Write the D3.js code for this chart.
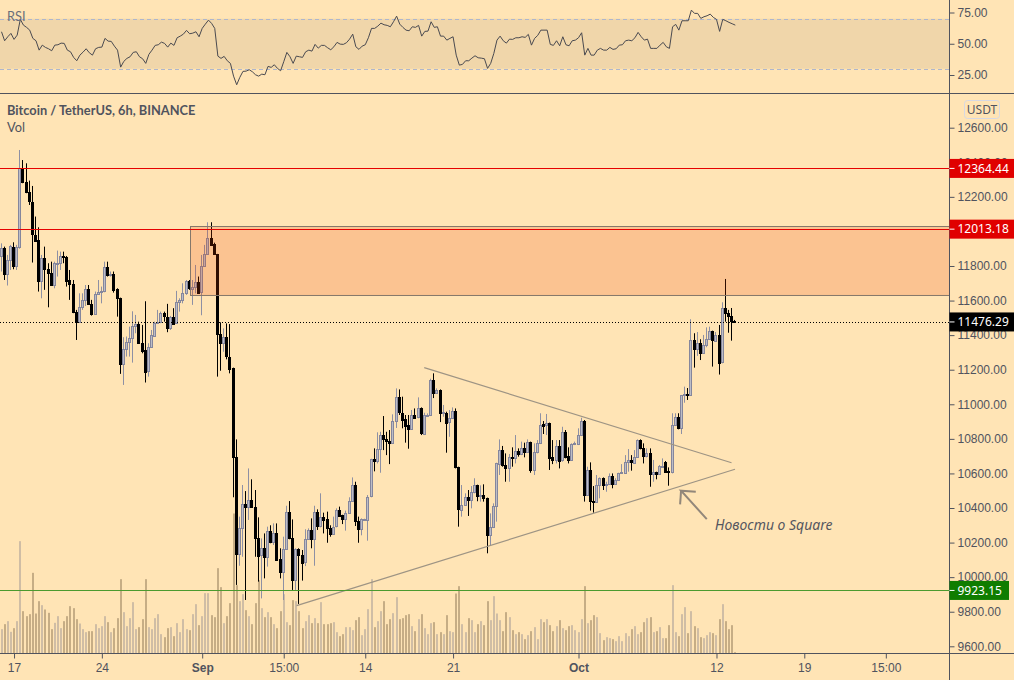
<!DOCTYPE html>
<html>
<head>
<meta charset="utf-8">
<script src="https://cdn.jsdelivr.net/npm/d3@7"></script>
<style>
    html, body { margin: 0; padding: 0; background: #FFE4B5; overflow: hidden; }
    svg { display: block; font-family: "Noto Sans", sans-serif; }
    .axis text { fill: #50535E; font-size: 12px; }
    .axis line { stroke: #50535E; }
    .axis path { display: none; }
    .pane-title { font-family: Lato, sans-serif; font-size: 12.8px; }
</style>
</head>
<body>
<script>
var opens = [
    11854,11903,11752,11835,11912,11800,11908,12365,12284,12226,
    12169,11982,11949,11710,11845,11781,11758,11690,11812,11816,
    11858,11852,11719,11694,11532,11475,11561,11602,11665,11579,
    11523,11635,11648,11652,11793,11748,11754,11665,11613,11230,
    11318,11359,11382,11451,11463,11353,11314,11189,11330,11399,
    11473,11475,11527,11507,11444,11507,11469,11590,11602,11642,
    11712,11671,11681,11710,11648,11800,11868,11960,11926,11868,
    11404,11350,11387,11275,11208,10693,10134,10282,10421,10404,
    10444,10404,10226,10124,10167,10113,10265,10199,10253,10103,
    10026,10161,10375,10224,9980,10161,10128,10084,10219,10273,
    10219,10375,10292,10346,10334,10284,10250,10292,10386,10359,
    10338,10373,10440,10531,10323,10277,10331,10334,10465,10681,
    10670,10739,10820,10797,10786,10774,10901,11040,10951,10913,
    10880,10859,10940,10924,10976,10828,10934,10936,11140,11067,
    11082,10949,10951,10893,10919,10959,10635,10388,10415,10462,
    10446,10491,10531,10469,10473,10456,10240,10288,10412,10654,
    10735,10647,10627,10693,10685,10728,10708,10745,10724,10780,
    10620,10720,10774,10886,10880,10890,10693,10678,10759,10674,
    10838,10699,10678,10770,10770,10822,10903,10477,10620,10442,
    10435,10535,10573,10533,10535,10583,10537,10560,10600,10600,
    10664,10676,10664,10697,10793,10745,10697,10716,10597,10606,
    10597,10639,10666,10612,10604,10878,10924,10859,11052,11058,
    11054,11372,11318,11353,11295,11341,11376,11422,11368,11401,
    11241,11555,11526,11511,11484
];
var highs = [
    11931,11912,11864,11922,11937,11922,12471,12413,12394,12294,
    12263,12086,12024,11864,11912,11816,11825,11825,11889,11883,
    11883,11858,11777,11719,11546,11642,11642,11690,11690,11604,
    11652,11719,11681,11825,11825,11768,11768,11671,11617,11388,
    11392,11449,11538,11517,11478,11459,11596,11353,11430,11478,
    11546,11536,11536,11581,11511,11556,11656,11613,11700,11719,
    11719,11719,11806,11739,11864,11922,12053,12053,11935,11870,
    11474,11439,11468,11464,11212,10797,10350,10533,10498,10629,
    10566,10504,10346,10224,10253,10292,10300,10311,10311,10167,
    10234,10413,10440,10334,10167,10167,10157,10277,10282,10340,
    10413,10392,10485,10373,10379,10300,10350,10398,10408,10361,
    10385,10462,10577,10552,10350,10340,10338,10475,10685,10745,
    10838,10841,10932,10841,10851,10942,11092,11086,11044,10938,
    10938,10967,10976,11040,10982,10951,10947,11148,11179,11092,
    11086,10996,10957,10967,10982,10976,10639,10533,10485,10504,
    10527,10572,10535,10531,10537,10460,10369,10427,10662,10797,
    10759,10716,10712,10751,10822,10745,10784,10778,10797,10784,
    10774,10793,10948,10903,10944,10894,10793,10793,10793,10870,
    10851,10751,10774,10784,10861,10922,10909,10639,10664,10527,
    10591,10577,10577,10552,10600,10600,10572,10604,10654,10706,
    10741,10706,10735,10797,10797,10774,10745,10745,10678,10610,
    10649,10687,10672,10635,10948,10948,10948,11054,11102,11094,
    11492,11411,11418,11376,11401,11445,11449,11426,11418,11459,
    11590,11725,11546,11557,11488
];
var lows = [
    11768,11719,11687,11777,11781,11777,11900,12279,12221,12153,
    11820,11941,11652,11613,11662,11561,11687,11671,11739,11777,
    11816,11681,11604,11527,11372,11471,11546,11569,11575,11513,
    11517,11633,11584,11648,11739,11739,11646,11507,11176,11112,
    11276,11276,11241,11411,11349,11295,11126,11160,11326,11395,
    11469,11469,11478,11417,11430,11465,11465,11536,11584,11633,
    11662,11575,11642,11642,11515,11797,11864,11918,11864,11160,
    11194,11304,11260,11179,10462,9955,10066,10118,9868,10331,
    10400,10118,9974,9877,9993,10061,10196,10186,10095,9993,
    9868,10157,10219,9926,9926,9845,9980,10064,10215,10167,
    10066,10273,10288,10253,10199,10234,10246,10288,10350,10307,
    10269,10369,10437,10296,10199,10242,10327,10211,10462,10612,
    10658,10604,10735,10706,10654,10770,10863,10938,10861,10778,
    10743,10855,10919,10919,10822,10822,10928,10932,11036,11063,
    10897,10928,10720,10812,10915,10629,10292,10350,10412,10354,
    10398,10485,10439,10437,10437,10138,10186,10284,10321,10591,
    10639,10552,10552,10639,10658,10697,10706,10693,10720,10604,
    10591,10716,10770,10828,10822,10620,10654,10658,10629,10668,
    10687,10658,10672,10764,10764,10820,10437,10475,10385,10373,
    10431,10456,10504,10494,10533,10514,10533,10556,10597,10597,
    10610,10616,10658,10693,10739,10658,10693,10523,10552,10566,
    10591,10635,10604,10529,10600,10874,10855,10828,11009,11025,
    11050,11212,11280,11256,11291,11330,11372,11218,11364,11172,
    11237,11478,11414,11368,11472
];
var closes = [
    11903,11752,11835,11916,11800,11908,12365,12282,12225,12172,
    11982,11945,11710,11845,11781,11756,11690,11816,11816,11858,
    11852,11716,11694,11530,11475,11561,11602,11665,11579,11523,
    11638,11648,11654,11793,11744,11752,11662,11613,11230,11318,
    11359,11382,11451,11463,11353,11309,11189,11330,11401,11473,
    11476,11527,11507,11444,11507,11469,11590,11604,11642,11712,
    11671,11681,11710,11648,11800,11868,11960,11922,11868,11404,
    11350,11387,11275,11206,10693,10134,10282,10421,10404,10444,
    10404,10223,10124,10167,10113,10265,10199,10253,10099,10026,
    10161,10375,10223,9980,10161,10124,10084,10219,10273,10219,
    10375,10292,10346,10331,10280,10250,10292,10386,10354,10338,
    10373,10440,10531,10323,10277,10334,10334,10465,10681,10670,
    10739,10820,10797,10786,10774,10901,11040,10951,10909,10874,
    10859,10940,10924,10976,10832,10936,10938,11140,11067,11082,
    10951,10953,10893,10919,10959,10633,10392,10415,10462,10446,
    10491,10531,10469,10477,10454,10240,10288,10412,10658,10735,
    10647,10627,10693,10685,10728,10708,10745,10724,10780,10620,
    10724,10774,10878,10874,10892,10689,10678,10759,10674,10838,
    10693,10678,10770,10774,10822,10903,10477,10620,10442,10435,
    10535,10573,10533,10537,10583,10537,10560,10600,10606,10664,
    10676,10664,10697,10793,10745,10697,10716,10597,10606,10597,
    10643,10645,10610,10604,10878,10924,10859,11052,11057,11052,
    11372,11318,11353,11295,11341,11376,11422,11368,11401,11241,
    11555,11526,11511,11484,11476
];
var volumes = [
    73,88,97,65,76,97,337,127,112,118,
    242,120,157,145,132,122,73,92,112,76,
    97,112,142,136,103,90,73,64,67,67,
    88,76,82,112,94,64,76,106,223,124,
    82,106,154,73,79,103,223,79,73,106,
    118,58,49,76,79,52,91,64,103,73,
    70,118,148,85,112,181,181,115,109,256,
    199,91,112,151,420,205,157,178,130,112,
    88,151,220,136,109,124,109,88,76,127,
    178,94,85,160,157,127,76,97,115,91,
    106,91,154,88,88,91,94,64,52,58,
    79,79,70,100,109,55,73,133,223,79,
    97,127,157,88,103,121,169,103,106,115,
    118,82,67,103,118,76,58,91,94,58,
    64,58,115,67,64,180,202,88,64,106,
    100,64,88,97,85,157,100,172,120,100,
    67,124,109,70,58,64,58,43,55,67,
    79,43,103,94,103,85,67,82,100,76,
    70,82,85,70,64,103,202,91,100,115,
    109,61,40,49,46,43,37,52,37,61,
    52,73,82,58,64,94,106,109,64,67,
    79,46,46,85,205,64,52,118,139,61,
    127,82,76,49,46,55,64,61,55,103,
    148,97,73,85,4
];
var rsiValues = [
    59.6,52.4,55.6,58.3,53.5,56.9,69.5,64.9,63.1,60.9,
    54.3,52.4,44.9,48.9,47.1,46,44.4,48.9,49.2,50.5,
    50.3,44.9,43.6,39.1,36.4,40.9,43.3,46,42.8,40.9,
    46,47.1,47.3,54.3,52.1,51.9,48.1,44.9,31.3,35.9,
    38.3,39.6,43.1,43.6,39.6,38,34.3,41.5,44.9,48.7,
    49.2,51.3,50.3,47.3,50.5,48.7,54.8,56.1,57.7,60.7,
    58,58.5,59.6,55.6,62.3,65.7,68.9,66.3,62.3,40.1,
    38.3,39.9,36.4,34.3,24.1,17.2,23.1,27.9,28.1,29.2,
    27.6,25.2,24.1,25.7,25.2,31.9,31.1,33.2,30.3,28.4,
    35.6,43.1,39.6,34.3,40.1,39.6,39.1,43.6,44.9,44.1,
    49.5,46.5,48.7,48.7,46.8,45.2,47.6,51.1,49.7,49.5,
    50.8,53.7,57.7,47.6,45.5,48.1,49.2,54.8,62.3,62.3,
    64.1,66.5,65.2,64.7,63.6,67.6,72.1,65.7,63.1,60.9,
    60.4,63.6,63.1,64.7,56.1,59.9,60.1,67.6,63.1,63.6,
    56.1,56.1,52.9,54.3,55.6,40.9,32.9,33.5,36.4,36.4,
    38.5,40.4,38.8,38.5,38,30.3,34.3,42.3,52.9,56.1,
    52.4,50.5,53.7,53.5,54.8,54.8,55.6,55.1,57.5,48.9,
    54.3,56.7,60.9,60.9,60.9,49.5,48.7,52.4,48.4,55.6,
    49.2,48.4,52.4,52.9,54.8,58.8,40.9,46.3,40.9,40.9,
    44.9,46.3,44.9,44.9,47.1,45.5,46,48.9,49.2,52.4,
    52.9,52.4,54.8,59.1,55.6,52.9,53.7,46.3,46.3,46.3,
    48.9,51.1,47.6,46.3,63.6,65.5,60.9,68.4,68.4,68.4,
    76.9,74.3,74.3,70.3,71.6,72.4,73.7,71.1,69.5,59.9,
    69.5,68.4,67.1,66,64.9
];

var priceTicks = [12600,12400,12200,12000,11800,11600,11400,11200,11000,10800,10600,10400,10200,10000,9800,9600];
var rsiTicks = [75, 50, 25];
var timeTickBars = [4, 32, 64, 90, 116, 144, 184, 228, 256, 282];
var timeTickLabels = ["17", "24", "Sep", "15:00", "14", "21", "Oct", "12", "19", "15:00"];
var boldTimeLabels = ["Sep", "Oct"];

var resistance = [12364.44, 12013.18];
var support = 9923.15;
var lastPrice = 11476.29;
var zoneBars = [60, 300];
var zonePrices = [12030, 11631];
var upperTrendBars = [134.8, 232.8];
var upperTrendPrices = [11212, 10662];
var lowerTrendBars = [94.1, 233.9];
var lowerTrendPrices = [9835, 10624];
var arrowBars = [224.9, 216.7, 221.4];
var arrowPrices = [10336, 10500, 10494];
var arrowBarbBar = 216.4;
var arrowBarbPrice = 10421;

(function() {
    var WIDTH = 1014,
        HEIGHT = 680,
        PLOT_RIGHT = 949.5,
        AXIS_BOTTOM = 653.5,
        PANE_SPLIT = 93.5;

    var upStroke = "#85869C", upFill = "#BDBDC6", upWick = "#8E90A4", downColor = "#000000";
    var textColor = "#50535E";

    var svg = d3.select("body").append("svg")
        .attr("width", WIDTH)
        .attr("height", HEIGHT);

    var x = d3.scaleLinear().domain([0, 234]).range([1.5, 735.3]);
    var y = d3.scaleLinear().domain([9600, 12600]).range([646.3, 127.7]);
    var yRsi = d3.scaleLinear().domain([25, 75]).range([75, 12.5]);
    var yVol = d3.scaleLinear().domain([0, 420]).range([AXIS_BOTTOM, AXIS_BOTTOM - 140]);

    function px(v) { return Math.round(v) + 0.5; }
    var bars = d3.range(opens.length);
    function isUp(i) { return closes[i] >= opens[i]; }

    // rsi pane
    svg.append("rect")
        .attr("x", 0).attr("width", PLOT_RIGHT)
        .attr("y", yRsi(70)).attr("height", yRsi(30) - yRsi(70))
        .attr("fill", "#F0D6AA");
    svg.selectAll(".rsiLevel").data([70, 30]).enter().append("line")
        .attr("x1", 0).attr("x2", PLOT_RIGHT)
        .attr("y1", function(d) { return px(yRsi(d)); })
        .attr("y2", function(d) { return px(yRsi(d)); })
        .attr("stroke", "#AEB6CC")
        .attr("stroke-dasharray", "4 3");
    svg.append("path")
        .datum(rsiValues)
        .attr("fill", "none")
        .attr("stroke", "#4A4A50")
        .attr("stroke-width", 1)
        .attr("d", d3.line().x(function(d, i) { return x(i); }).y(function(d) { return yRsi(d); }));

    // volume under the candles
    svg.selectAll(".vol").data(bars).enter().append("rect")
        .attr("x", function(i) { return Math.round(x(i)) - 1; })
        .attr("width", 2)
        .attr("y", function(i) { return yVol(volumes[i]); })
        .attr("height", function(i) { return AXIS_BOTTOM - yVol(volumes[i]); })
        .attr("fill", function(i) { return isUp(i) ? "#CFBDA5" : "#C6AD85"; });

    // wicks
    svg.selectAll(".wick").data(bars).enter().append("line")
        .attr("x1", function(i) { return px(x(i)) - 1; })
        .attr("x2", function(i) { return px(x(i)) - 1; })
        .attr("y1", function(i) { return y(highs[i]); })
        .attr("y2", function(i) { return y(lows[i]); })
        .attr("stroke", function(i) { return isUp(i) ? upWick : downColor; });

    // bodies
    svg.selectAll(".body").data(bars).enter().append("rect")
        .attr("x", function(i) { return px(x(i)) - 2; })
        .attr("width", 2)
        .attr("y", function(i) { return px(y(Math.max(opens[i], closes[i]))); })
        .attr("height", function(i) {
            return Math.max(1, Math.round(y(Math.min(opens[i], closes[i])) - y(Math.max(opens[i], closes[i]))));
        })
        .attr("fill", function(i) { return isUp(i) ? upFill : downColor; })
        .attr("stroke", function(i) { return isUp(i) ? upStroke : downColor; });

    // supply zone goes over the candles, they show through it
    svg.append("rect")
        .attr("x", px(x(zoneBars[0])))
        .attr("y", px(y(zonePrices[0])))
        .attr("width", PLOT_RIGHT - px(x(zoneBars[0])))
        .attr("height", y(zonePrices[1]) - y(zonePrices[0]))
        .attr("fill", "rgba(235,63,6,0.2)")
        .attr("stroke", "#85776A");

    var trend = d3.line()
        .x(function(d) { return x(d[0]); })
        .y(function(d) { return y(d[1]); });

    svg.append("path")
        .attr("d", trend(d3.zip(upperTrendBars, upperTrendPrices)))
        .attr("fill", "none").attr("stroke", "#9E9484").attr("stroke-width", 1.2);
    svg.append("path")
        .attr("d", trend(d3.zip(lowerTrendBars, lowerTrendPrices)))
        .attr("fill", "none").attr("stroke", "#9E9484").attr("stroke-width", 1.2);

    // arrow to the news candle
    svg.append("path")
        .attr("d", trend(d3.zip(arrowBars, arrowPrices)))
        .attr("fill", "none").attr("stroke", "#92877A").attr("stroke-width", 2);
    svg.append("path")
        .attr("d", trend([[arrowBars[1], arrowPrices[1]], [arrowBarbBar, arrowBarbPrice]]))
        .attr("fill", "none").attr("stroke", "#92877A").attr("stroke-width", 2);

    svg.append("text")
        .attr("x", 715).attr("y", 526.5)
        .attr("font-size", 14)
        .attr("font-style", "italic")
        .attr("dominant-baseline", "middle")
        .attr("fill", "#55565F")
        .text("Новости о Square");

    // price lines
    svg.selectAll(".resistance").data(resistance).enter().append("line")
        .attr("x1", 0).attr("x2", PLOT_RIGHT)
        .attr("y1", function(d) { return px(y(d)); })
        .attr("y2", function(d) { return px(y(d)); })
        .attr("stroke", "#E60000");
    svg.append("line")
        .attr("x1", 0).attr("x2", PLOT_RIGHT)
        .attr("y1", px(y(support))).attr("y2", px(y(support)))
        .attr("stroke", "#4B9A2E");
    svg.append("line")
        .attr("x1", 0).attr("x2", PLOT_RIGHT)
        .attr("y1", px(y(lastPrice))).attr("y2", px(y(lastPrice)))
        .attr("stroke", "#000")
        .attr("stroke-dasharray", "1 2");

    // frame
    svg.append("line").attr("x1", 0).attr("x2", WIDTH).attr("y1", PANE_SPLIT).attr("y2", PANE_SPLIT)
        .attr("stroke", "#50535E");
    svg.append("line").attr("x1", 0).attr("x2", WIDTH).attr("y1", AXIS_BOTTOM).attr("y2", AXIS_BOTTOM)
        .attr("stroke", "#50535E");
    svg.append("line").attr("x1", PLOT_RIGHT).attr("x2", PLOT_RIGHT).attr("y1", 0).attr("y2", HEIGHT)
        .attr("stroke", "#50535E");

    // axes
    svg.append("g").attr("class", "axis")
        .attr("transform", "translate(" + PLOT_RIGHT + ",0)")
        .call(d3.axisRight(y).tickValues(priceTicks).tickSize(5).tickPadding(3).tickFormat(d3.format(".2f")));
    svg.append("g").attr("class", "axis")
        .attr("transform", "translate(" + PLOT_RIGHT + ",0)")
        .call(d3.axisRight(yRsi).tickValues(rsiTicks).tickSize(5).tickPadding(3).tickFormat(d3.format(".2f")));
    var timeAxis = svg.append("g").attr("class", "axis")
        .attr("transform", "translate(0," + AXIS_BOTTOM + ")")
        .call(d3.axisBottom(x).tickValues(timeTickBars).tickSize(5).tickPadding(5)
            .tickFormat(function(d, i) { return timeTickLabels[i]; }));
    timeAxis.selectAll("text")
        .attr("font-weight", function(d, i) { return boldTimeLabels.indexOf(timeTickLabels[i]) >= 0 ? "bold" : null; });

    // labels on the price scale, drawn over the ticks
    function priceLabel(value, color, width) {
        var cy = y(value);
        svg.append("rect")
            .attr("x", PLOT_RIGHT).attr("y", cy - 9.5)
            .attr("width", width).attr("height", 19)
            .attr("fill", color);
        svg.append("line")
            .attr("x1", PLOT_RIGHT).attr("x2", PLOT_RIGHT + 5)
            .attr("y1", cy).attr("y2", cy)
            .attr("stroke", "#fff");
        svg.append("text")
            .attr("x", PLOT_RIGHT + 8).attr("y", cy)
            .attr("dy", "0.35em")
            .attr("font-size", 12)
            .attr("fill", "#fff")
            .text(d3.format(".2f")(value));
    }
    priceLabel(resistance[0], "#E00000", 64.5);
    priceLabel(resistance[1], "#E00000", 64.5);
    priceLabel(lastPrice, "#000000", 64.5);
    priceLabel(support, "#0F7D00", 59.5);

    // usdt badge
    svg.append("rect")
        .attr("x", 964.5).attr("y", 100.5).attr("width", 35).attr("height", 18).attr("rx", 3)
        .attr("fill", "none").attr("stroke", "#D6D8E4");
    svg.append("text")
        .attr("x", 982).attr("y", 110).attr("dy", "0.35em")
        .attr("text-anchor", "middle")
        .attr("font-size", 12)
        .attr("fill", textColor)
        .text("USDT");

    // pane titles
    svg.append("text").attr("class", "pane-title").attr("x", 7).attr("y", 17).attr("dy", "0.35em")
        .attr("fill", "#6B6E7A").text("RSI");
    svg.append("text").attr("class", "pane-title").attr("x", 7).attr("y", 110.5).attr("dy", "0.35em")
        .attr("font-weight", "bold").attr("fill", textColor)
        .text("Bitcoin / TetherUS, 6h, BINANCE");
    svg.append("text").attr("class", "pane-title").attr("x", 7).attr("y", 127.5).attr("dy", "0.35em")
        .attr("fill", textColor).text("Vol");
})();
</script>
</body>
</html>
